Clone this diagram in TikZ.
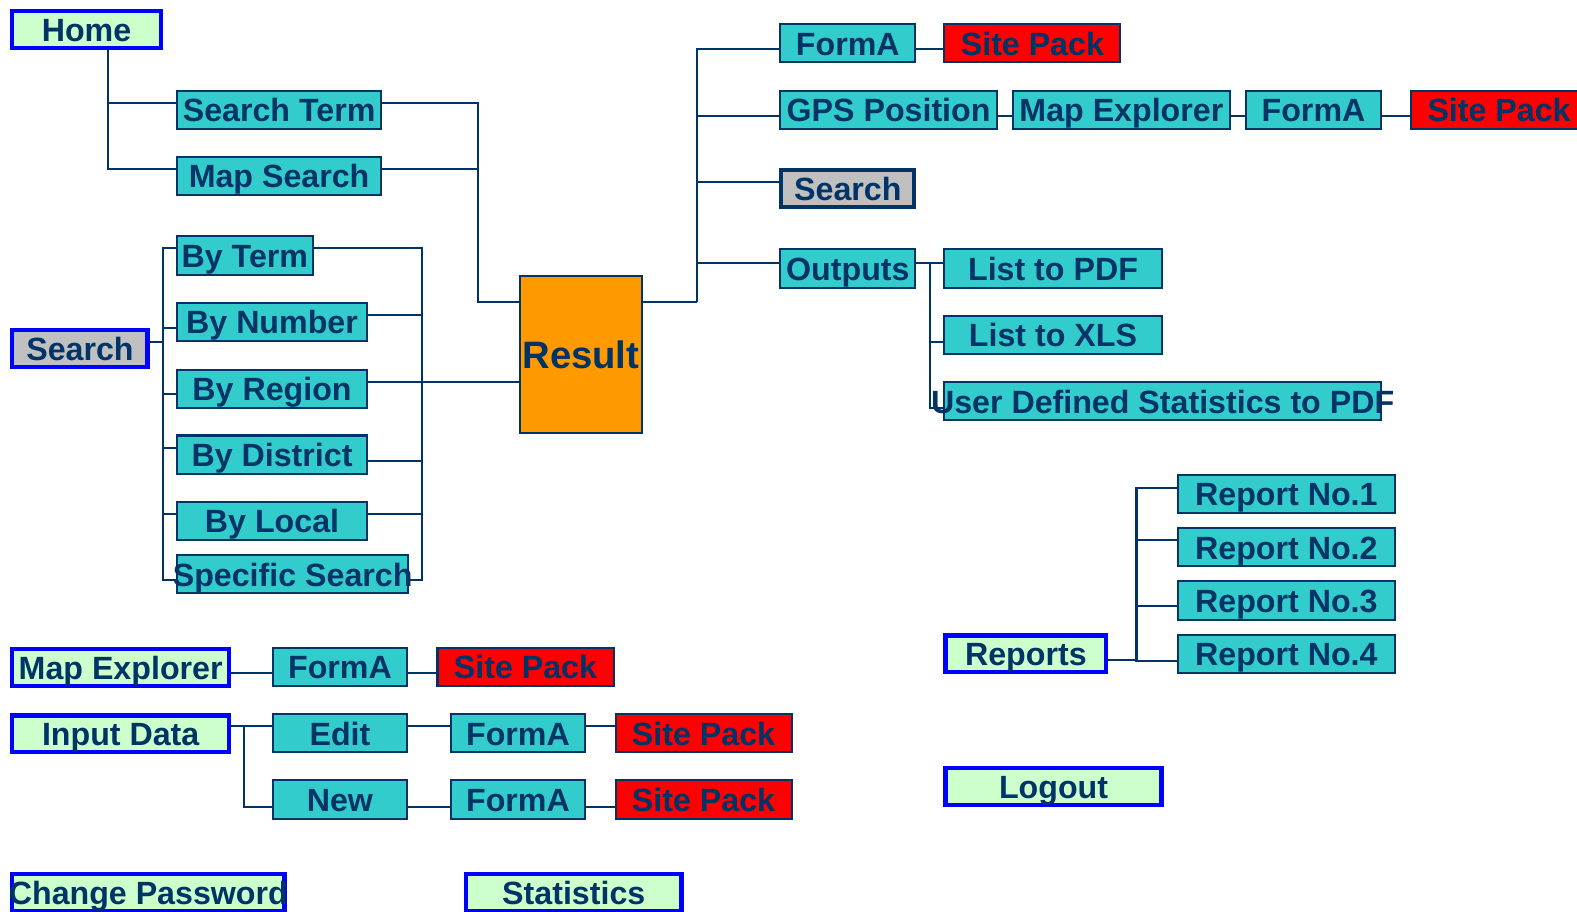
\documentclass[tikz,border=0pt]{standalone}
\usepackage{fontspec}
\setmainfont{Liberation Sans}
\definecolor{navy}{HTML}{003366}
\definecolor{itemteal}{HTML}{33CCCC}
\definecolor{menugreen}{HTML}{CCFFCC}
\definecolor{menublue}{HTML}{0000FF}
\definecolor{findgrey}{HTML}{C0C0C0}
\definecolor{resultorange}{HTML}{FF9900}
\definecolor{packred}{HTML}{FF0000}
\newcommand{\ov}[1]{\makebox[0pt]{#1}}
\tikzstyle{menu} = [rectangle, draw=menublue, line width=2.2pt, fill=menugreen, minimum height=18.3pt, inner sep=0pt, text height=11.8pt, text depth=0pt, text=navy, font=\bfseries\fontsize{16}{18}\selectfont]
\tikzstyle{item} = [rectangle, draw=navy, line width=1pt, fill=itemteal, minimum height=19pt, inner sep=0pt, text height=11.8pt, text depth=0pt, text=navy, font=\bfseries\fontsize{16}{18}\selectfont]
\tikzstyle{pack} = [item, fill=packred]
\tikzstyle{find} = [item, fill=findgrey, line width=2pt, minimum height=18.5pt]
\tikzstyle{result} = [item, fill=resultorange, text height=13.8pt, font=\bfseries\fontsize{19}{21}\selectfont]
\tikzstyle{link} = [draw=navy, line width=1pt]

\begin{document}
\begin{tikzpicture}[x=0.5pt, y=-0.5pt]
\useasboundingbox (0,0) rectangle (1568,906);

\node (home) [menu, minimum width=73.8pt] at (86,29.5) {Home};
\node (searchterm) [item, minimum width=101.5pt] at (277.5,109) {Search Term};
\node (mapsearch) [item, minimum width=101.5pt] at (277.5,175) {Map Search};

\node (searchL) [menu, fill=findgrey, minimum width=67.3pt] at (79.5,346.5) {Search};
\node (byterm) [item, minimum width=67.5pt] at (243.5,254) {By Term};
\node (bynumber) [item, minimum width=94.5pt] at (270.5,320) {By Number};
\node (byregion) [item, minimum width=94.5pt] at (270.5,386.5) {By Region};
\node (bydistrict) [item, minimum width=94.5pt] at (270.5,452) {By District};
\node (bylocal) [item, minimum width=94.5pt] at (270.5,518) {By Local};
\node (specific) [item, minimum width=115pt] at (291,571) {\ov{Specific Search}};

\node (result) [result, minimum width=60.5pt, minimum height=78.5pt] at (577.5,352.5) {\ov{Result}};

\node (formaA) [item, minimum width=67pt] at (843,43) {FormA};
\node (sitepackA) [pack, minimum width=87.5pt] at (1026.5,43) {Site Pack};
\node (gps) [item, minimum width=107.5pt] at (883.5,109) {\ov{GPS Position}};
\node (mapexpA) [item, minimum width=108pt] at (1115,109) {Map Explorer};
\node (formaB) [item, minimum width=67pt] at (1306,109) {FormA};
\node (sitepackB) [pack, minimum width=87.5pt] at (1490.5,109) {Site Pack};
\node (searchR) [find, minimum width=66pt] at (843,187.5) {Search};
\node (outputs) [item, minimum width=67pt] at (843,267) {Outputs};
\node (listpdf) [item, minimum width=108pt] at (1047,267) {List to PDF};
\node (listxls) [item, minimum width=108pt] at (1047,333) {List to XLS};
\node (uds) [item, minimum width=217pt] at (1156,399) {\ov{User Defined Statistics to PDF}};

\node (report1) [item, minimum width=108pt] at (1279,491) {Report No.1};
\node (report2) [item, minimum width=108pt] at (1279,544) {Report No.2};
\node (report3) [item, minimum width=108pt] at (1279,597) {Report No.3};
\node (report4) [item, minimum width=108pt] at (1279,650) {Report No.4};
\node (reports) [menu, minimum width=79.8pt] at (1020,650) {Reports};
\node (logout) [menu, minimum width=107.3pt] at (1047.5,782) {Logout};

\node (mapexpL) [menu, minimum width=107.8pt] at (120,663.5) {Map Explorer};
\node (formaC) [item, minimum width=67pt] at (338,663) {FormA};
\node (sitepackC) [pack, minimum width=87.5pt] at (522.5,663) {Site Pack};
\node (inputdata) [menu, minimum width=107.8pt] at (120,729.5) {Input Data};
\node (edit) [item, minimum width=67pt] at (338,729) {Edit};
\node (formaD) [item, minimum width=67pt] at (515,729) {FormA};
\node (sitepackD) [pack, minimum width=87.5pt] at (699.5,729) {Site Pack};
\node (new) [item, minimum width=67pt] at (338,795) {New};
\node (formaE) [item, minimum width=67pt] at (515,795) {FormA};
\node (sitepackE) [pack, minimum width=87.5pt] at (699.5,795) {Site Pack};
\node (changepw) [menu, minimum width=135.3pt] at (147.5,887.5) {\ov{Change Password}};
\node (statistics) [menu, minimum width=107.3pt] at (570.5,887.5) {Statistics};

\coordinate (hbus) at (475,300);
\coordinate (lbus) at (162,340);
\coordinate (rbus) at (420,380);
\coordinate (tbus) at (693,300);
\coordinate (obus) at (925,261);
\coordinate (pbus) at (1130,656);
\coordinate (ibus) at (243,722);

\draw [link] ([xshift=10.5pt]home.south) |- ([yshift=3.5pt]searchterm.west);
\draw [link] ([xshift=10.5pt]home.south) |- ([yshift=3.5pt]mapsearch.west);
\draw [link] ([yshift=3.5pt]searchterm.east) -| (hbus) -- ([yshift=26.25pt]result.west);
\draw [link] ([yshift=3.5pt]mapsearch.east) -| (hbus);

\draw [link] ([yshift=3.25pt]searchL.east) -- (lbus);
\draw [link] ([yshift=3.5pt]byterm.west) -| (lbus);
\draw [link] ([yshift=-3pt]bynumber.west) -| (lbus);
\draw [link] ([yshift=-2.75pt]byregion.west) -| (lbus);
\draw [link] ([yshift=3.5pt]bydistrict.west) -| (lbus);
\draw [link] ([yshift=3.5pt]bylocal.west) -| (lbus);
\draw [link] ([yshift=-3pt]specific.west) -| (lbus);

\draw [link] ([yshift=3.5pt]byterm.east) -| (rbus);
\draw [link] ([yshift=3.5pt]bynumber.east) -| (rbus);
\draw [link] ([yshift=3.25pt]byregion.east) -- ([yshift=-13.75pt]result.west);
\draw [link] ([yshift=-3pt]bydistrict.east) -| (rbus);
\draw [link] ([yshift=3.5pt]bylocal.east) -| (rbus);
\draw [link] ([yshift=-3pt]specific.east) -| (rbus);

\draw [link] ([yshift=26.25pt]result.east) -- (tbus);
\draw [link] ([yshift=-3pt]formaA.west) -| (tbus);
\draw [link] ([yshift=-3pt]gps.west) -| (tbus);
\draw [link] ([yshift=3.25pt]searchR.west) -| (tbus);
\draw [link] ([yshift=3pt]outputs.west) -| (tbus);
\draw [link] ([yshift=-3pt]formaA.east) -- ([yshift=-3pt]sitepackA.west);
\draw [link] ([yshift=-3pt]gps.east) -- ([yshift=-3pt]mapexpA.west);
\draw [link] ([yshift=-3pt]mapexpA.east) -- ([yshift=-3pt]formaB.west);
\draw [link] ([yshift=-3pt]formaB.east) -- ([yshift=-3pt]sitepackB.west);

\draw [link] ([yshift=3pt]outputs.east) -- (obus);
\draw [link] ([yshift=3pt]listpdf.west) -| (obus);
\draw [link] ([yshift=-3.5pt]listxls.west) -| (obus);
\draw [link] ([yshift=-3.5pt]uds.west) -| (obus);

\draw [link] ([yshift=-3pt]reports.east) -- (pbus);
\draw [link] ([yshift=3pt]report1.west) -| (pbus);
\draw [link] ([yshift=3.5pt]report2.west) -| (pbus);
\draw [link] ([yshift=-3pt]report3.west) -| (pbus);
\draw [link] ([yshift=-3.5pt]report4.west) -| (pbus);

\draw [link] ([yshift=-2.75pt]mapexpL.east) -- ([yshift=-3pt]formaC.west);
\draw [link] ([yshift=-3pt]formaC.east) -- ([yshift=-3pt]sitepackC.west);

\draw [link] ([yshift=3.75pt]inputdata.east) -- (ibus);
\draw [link] ([yshift=3.5pt]edit.west) -| (ibus);
\draw [link] ([yshift=-3.5pt]new.west) -| (ibus);
\draw [link] ([yshift=3.5pt]edit.east) -- ([yshift=3.5pt]formaD.west);
\draw [link] ([yshift=3.5pt]formaD.east) -- ([yshift=3.5pt]sitepackD.west);
\draw [link] ([yshift=-3.5pt]new.east) -- ([yshift=-3.5pt]formaE.west);
\draw [link] ([yshift=-3.5pt]formaE.east) -- ([yshift=-3.5pt]sitepackE.west);

\end{tikzpicture}
\end{document}
